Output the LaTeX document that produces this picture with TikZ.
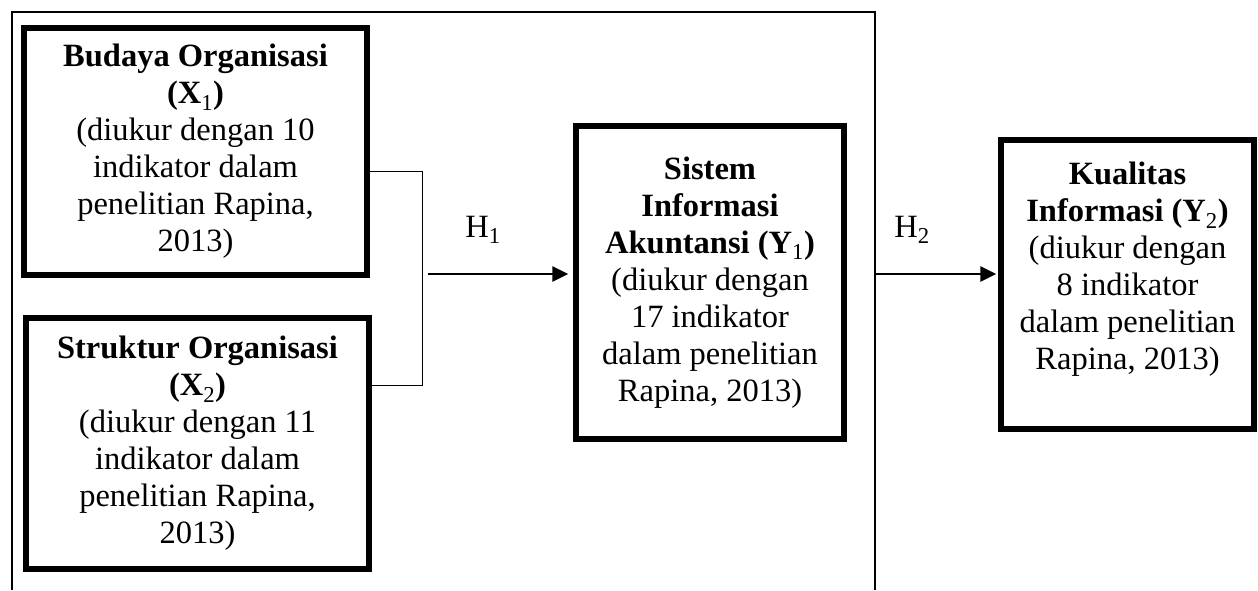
\documentclass[tikz,border=0pt]{standalone}
\usepackage{fontspec}
\setmainfont{Liberation Serif}
\usetikzlibrary{arrows.meta}

\tikzset{
  varbox/.style={draw, line width=5.5pt, align=center, inner sep=0pt,
    font=\fontsize{32.5}{37}\selectfont},
  hyplabel/.style={font=\fontsize{32.5}{37}\selectfont},
  link/.style={line width=2.7pt, -{Triangle[length=16pt,width=15pt]}},
  joinline/.style={line width=1pt},
}
\newcommand{\sbn}[1]{{\mdseries\textsubscript{#1}}}

\begin{document}
\begin{tikzpicture}[x=1pt,y=1pt]
\useasboundingbox (0,0) rectangle (1258,590);
% Outer frame (bottom edge runs off the page)
\draw[line width=2pt] (12,0) -- (12,578) -- (875,578) -- (875,0);
% Variable boxes
\node[varbox, minimum width=343pt, minimum height=247pt] (x1) at (195.5,438.5)
  {\textbf{Budaya Organisasi}\\ \textbf{(X\sbn{1})}\\ (diukur dengan 10\\ indikator dalam\\ penelitian Rapina,\\ 2013)};
\node[varbox, minimum width=343pt, minimum height=251pt] (x2) at (197.5,146.5)
  {\textbf{Struktur Organisasi}\\ \textbf{(X\sbn{2})}\\ (diukur dengan 11\\ indikator dalam\\ penelitian Rapina,\\ 2013)};
\node[varbox, minimum width=268pt, minimum height=313pt] (y1) at (710,307.5)
  {\textbf{Sistem}\\ \textbf{Informasi}\\ \textbf{Akuntansi (Y\sbn{1})}\\ (diukur dengan\\ 17 indikator\\ dalam penelitian\\ Rapina, 2013)};
\node[varbox, minimum width=253pt, minimum height=289pt] (y2) at (1127.5,305.5)
  {\textbf{Kualitas}\\ \textbf{Informasi (Y\sbn{2})}\\ (diukur dengan\\ 8 indikator\\ dalam penelitian\\ Rapina, 2013)\\ ~};
% Joining lines
\coordinate (jtop) at (422,418);
\coordinate (jbot) at (422,205);
\coordinate (jmid) at (428,316);
\draw[joinline] (x1.east |- jtop) -- (jtop) -- (jbot) -- (x2.east |- jbot);
% Hypotheses
\draw[link, shorten >=5pt] (jmid) -- (jmid -| y1.west);
\node[hyplabel] (h1) at (483,360) {H\textsubscript{1}};
\coordinate (frameR) at (875,316);
\draw[link, shorten >=2pt] (frameR) -- (frameR -| y2.west);
\node[hyplabel] (h2) at (912,360) {H\textsubscript{2}};
\end{tikzpicture}
\end{document}
